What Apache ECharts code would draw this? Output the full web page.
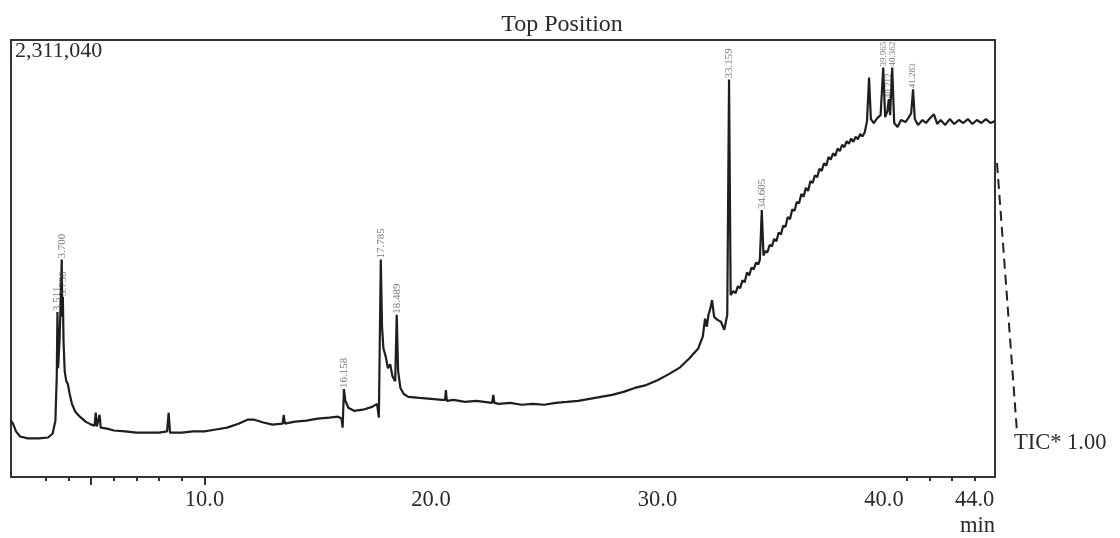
<!DOCTYPE html>
<html>
<head>
<meta charset="utf-8">
<script src="https://cdn.jsdelivr.net/npm/echarts@6/dist/echarts.min.js"></script>
<style>
  html, body { margin: 0; padding: 0; background: #fff; }
  #chart { width: 1120px; height: 538px; }
</style>
</head>
<body>
<div id="chart"></div>
<script>
// Retention time (min) of each trace point
const times = [
  1.46, 1.55, 1.68, 1.86, 2.2, 2.7, 3.1, 3.3, 3.42, 3.48, 3.511, 3.54, 3.6, 3.66, 3.7, 3.725, 3.75, 3.78, 3.83, 3.9,
  3.97, 4.05, 4.15, 4.3, 4.5, 4.75, 5.0, 5.15, 5.2, 5.25, 5.33, 5.37, 5.42, 5.7, 6.0, 6.5, 7.0, 7.5, 8.0, 8.35,
  8.42, 8.48, 9.0, 9.5, 10.0, 10.5, 11.0, 11.5, 11.9, 12.2, 12.6, 13.0, 13.45, 13.5, 13.55, 14.0, 14.5, 15.0, 15.5, 15.9,
  16.05, 16.1, 16.158, 16.22, 16.35, 16.6, 17.0, 17.4, 17.62, 17.7, 17.785, 17.84, 17.9, 18.0, 18.1, 18.2, 18.3, 18.42, 18.489, 18.55,
  18.65, 18.8, 19.0, 19.5, 20.0, 20.5, 20.62, 20.66, 20.7, 21.0, 21.5, 22.0, 22.7, 22.75, 22.8, 23.0, 23.5, 24.0, 24.5, 25.0,
  25.5, 26.0, 26.5, 27.0, 27.5, 28.0, 28.5, 29.0, 29.5, 30.0, 30.5, 31.0, 31.4, 31.8, 32.0, 32.1, 32.18, 32.25, 32.33, 32.41,
  32.5, 32.65, 32.8, 32.95, 33.08, 33.159,
  33.23, 33.35, 33.45, 33.55, 33.65, 33.75, 33.85, 33.95, 34.05, 34.15, 34.25, 34.35, 34.45, 34.52, 34.605,
  34.68, 34.75, 34.85, 34.95, 35.05, 35.15, 35.25, 35.35, 35.45, 35.55, 35.65, 35.75, 35.85, 35.95, 36.05, 36.15, 36.25, 36.35, 36.45, 36.55,
  36.65, 36.75, 36.85, 36.95, 37.05, 37.15, 37.25, 37.35, 37.45, 37.55, 37.65, 37.75, 37.85, 37.95, 38.05, 38.15, 38.25, 38.35, 38.45, 38.55,
  38.65, 38.75, 38.85, 38.95, 39.05, 39.15, 39.25,
  39.34, 39.42, 39.55, 39.7, 39.85, 39.965, 40.05, 40.15, 40.212, 40.27, 40.362, 40.45, 40.6, 40.75, 40.95, 41.1, 41.2, 41.283, 41.36, 41.5,
  41.7, 41.85, 42.0, 42.2, 42.35, 42.5, 42.7, 42.9, 43.1, 43.3, 43.5, 43.7, 43.9, 44.1, 44.3, 44.5, 44.7, 44.9
];

// Total ion current (counts) at each retention time
const counts = [
  298000, 282000, 241000, 214000, 204000, 204000, 209000, 230000, 298000, 533000, 873000, 575000, 716000, 952000, 1150000, 847000, 952000, 716000, 560000, 507000,
  492000, 439000, 387000, 345000, 319000, 293000, 277000, 272000, 340000, 267000, 267000, 329000, 261000, 256000, 246000, 241000, 235000, 235000, 235000, 241000,
  340000, 235000, 235000, 241000, 241000, 251000, 261000, 282000, 303000, 303000, 288000, 277000, 282000, 329000, 282000, 293000, 298000, 309000, 314000, 319000,
  309000, 261000, 465000, 403000, 366000, 350000, 356000, 371000, 387000, 314000, 1150000, 795000, 680000, 638000, 575000, 596000, 533000, 507000, 858000, 560000,
  471000, 439000, 424000, 418000, 413000, 408000, 408000, 460000, 403000, 408000, 397000, 403000, 392000, 434000, 392000, 387000, 392000, 382000, 387000, 382000,
  392000, 397000, 403000, 413000, 424000, 434000, 450000, 471000, 486000, 512000, 544000, 580000, 627000, 680000, 743000, 837000, 795000, 858000, 889000, 936000,
  847000, 831000, 821000, 779000, 858000, 2102000,
  962000, 983000, 972000, 1009000, 998000, 1040000, 1030000, 1082000, 1066000, 1108000, 1098000, 1134000, 1124000, 1150000, 1412000,
  1171000, 1195000, 1187000, 1227000, 1220000, 1259000, 1247000, 1293000, 1283000, 1329000, 1324000, 1375000, 1364000, 1415000, 1408000, 1454000, 1448000, 1497000, 1482000, 1529000,
  1513000, 1565000, 1555000, 1596000, 1585000, 1630000, 1619000, 1659000, 1646000, 1692000, 1679000, 1712000, 1698000, 1737000, 1724000, 1757000, 1744000, 1776000, 1763000, 1790000,
  1772000, 1800000, 1786000, 1814000, 1801000, 1823000, 1882000,
  2113000, 1893000, 1872000, 1898000, 1914000, 2165000, 1903000, 1935000, 1998000, 1914000, 2165000, 1872000, 1851000, 1888000, 1877000, 1903000, 1924000, 2050000, 1893000, 1862000,
  1888000, 1872000, 1893000, 1919000, 1867000, 1888000, 1862000, 1893000, 1867000, 1888000, 1872000, 1893000, 1867000, 1888000, 1872000, 1893000, 1872000, 1882000
];

// Annotated peaks (retention time, min)
const peakTimes = [3.511, 3.700, 3.750, 16.158, 17.785, 18.489, 33.159, 34.605, 39.965, 40.212, 40.362, 41.283];

// Axis labels and ticks
const xLabelValues = [10, 20, 30, 40, 44];
const xMinorTicks = [3, 4, 6, 7, 8, 9, 41, 42, 43, 44];
const xMajorTicks = [5, 10];
const xRange = [1.46, 44.9];
const yMax = 2311040;

const trace = times.map((t, i) => [t, counts[i]]);
// Late-eluting peaks sit close to the frame top, so their tags use a smaller type
const peaks = peakTimes.map(t => ({
  value: [t, counts[times.indexOf(t)]],
  label: { fontSize: t > 39 ? 9 : 11 }
}));

const serif = '"Liberation Serif", "DejaVu Serif", serif';
const ink = '#2a2a2a';

const chart = echarts.init(document.getElementById('chart'), null, { renderer: 'canvas' });

chart.setOption({
  animation: false,
  backgroundColor: '#fff',
  title: {
    text: 'Top Position',
    left: 557,
    top: 8,
    textAlign: 'center',
    textStyle: { fontFamily: serif, fontSize: 24, fontWeight: 'normal', color: ink }
  },
  grid: {
    left: 11, top: 40, width: 984, height: 442,
    show: true, borderColor: '#333', borderWidth: 2, backgroundColor: 'transparent'
  },
  xAxis: [
    {
      type: 'value', position: 'bottom', min: xRange[0], max: xRange[1],
      splitLine: { show: false },
      axisLine: { show: true, lineStyle: { color: '#333', width: 2 } },
      axisTick: { show: true, customValues: xMinorTicks, length: 4, lineStyle: { color: '#333', width: 2 } },
      axisLabel: {
        customValues: xLabelValues, margin: 12,
        formatter: v => v.toFixed(1),
        fontFamily: serif, fontSize: 22.5, color: ink
      },
      name: 'min', nameLocation: 'end', nameGap: 0,
      nameTextStyle: {
        fontFamily: serif, fontSize: 22.5, color: ink,
        align: 'right', verticalAlign: 'top', padding: [38, 0, 0, 0]
      }
    },
    {
      type: 'value', position: 'bottom', min: xRange[0], max: xRange[1],
      splitLine: { show: false },
      axisLine: { show: false },
      axisTick: { show: true, customValues: xMajorTicks, length: 8, lineStyle: { color: '#333', width: 2 } },
      axisLabel: { show: false }
    }
  ],
  yAxis: {
    type: 'value', min: 0, max: yMax,
    splitLine: { show: false },
    axisLine: { show: false },
    axisTick: { show: false },
    axisLabel: {
      inside: true, customValues: [yMax], margin: 4, verticalAlign: 'top',
      formatter: v => v.toLocaleString('en-US'),
      fontFamily: serif, fontSize: 22, color: ink
    }
  },
  series: [
    {
      name: 'TIC',
      type: 'line',
      data: trace,
      showSymbol: false,
      symbol: 'none',
      lineStyle: { color: '#1e1e1e', width: 2.2 },
      z: 3
    },
    {
      name: 'peaks',
      type: 'scatter',
      data: peaks,
      symbolSize: 0,
      silent: true,
      label: {
        show: true,
        position: 'top',
        distance: 1,
        rotate: 90,
        align: 'left',
        verticalAlign: 'middle',
        formatter: p => p.value[0].toFixed(3),
        fontFamily: serif,
        fontSize: 11,
        color: '#555'
      },
      z: 4
    }
  ],
  graphic: [
    {
      type: 'line',
      shape: { x1: 997, y1: 163, x2: 1017, y2: 432 },
      style: { stroke: '#222', lineWidth: 2, lineDash: [10, 6] }
    },
    {
      type: 'text',
      left: 1014,
      top: 432,
      style: { text: 'TIC* 1.00', font: '22.5px ' + serif, fill: ink }
    }
  ]
});
</script>
</body>
</html>
